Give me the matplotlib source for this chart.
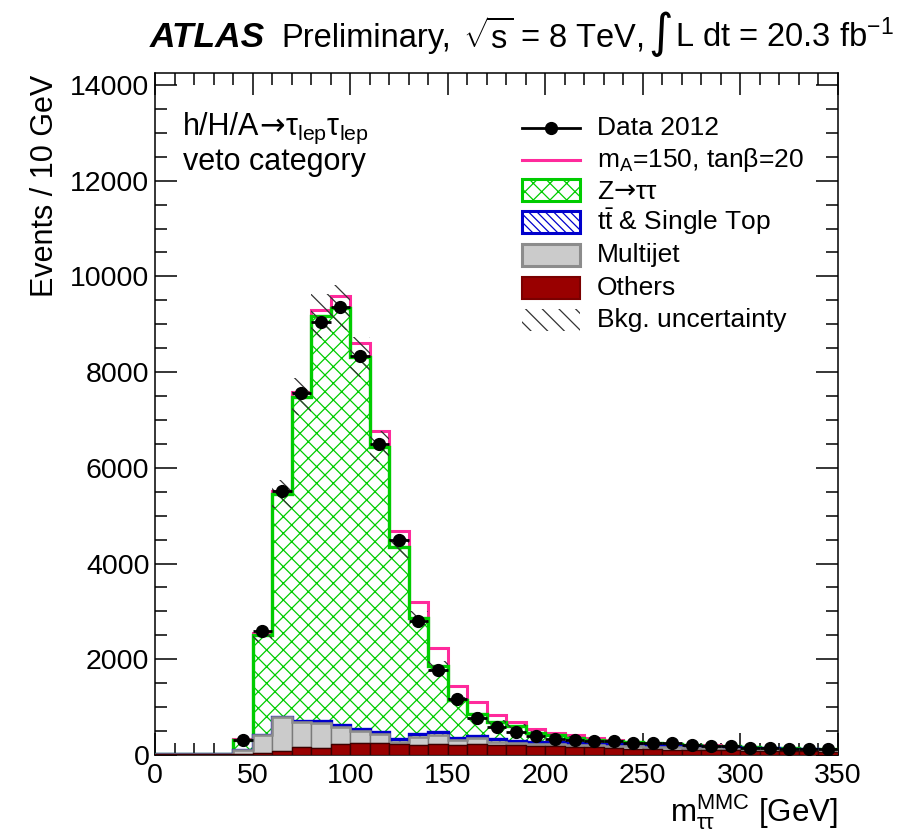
import numpy as np
import matplotlib
matplotlib.use('Agg')
import matplotlib.pyplot as plt
import matplotlib.patches as patches
from matplotlib.lines import Line2D

plt.rcParams['font.family'] = ['Liberation Sans', 'DejaVu Sans']
plt.rcParams['mathtext.fontset'] = 'custom'
plt.rcParams['mathtext.rm'] = 'Liberation Sans'
plt.rcParams['mathtext.it'] = 'Liberation Sans:italic'
plt.rcParams['mathtext.bf'] = 'Liberation Sans:bold'
plt.rcParams['mathtext.sf'] = 'Liberation Sans'
plt.rcParams['mathtext.default'] = 'regular'
plt.rcParams['hatch.linewidth'] = 0.9

# binning: 10 GeV bins from 0 to 350 GeV
edges = np.arange(0, 360, 10)
centers = edges[:-1] + 5

data_2012 = np.array([0, 0, 0, 0, 310, 2590, 5520, 7570, 9050, 9370, 8340, 6500, 4490, 2810,
                      1780, 1160, 780, 592, 487, 397, 334, 313, 292, 292, 258, 244, 244, 202,
                      188, 188, 153, 153, 132, 132, 118])
others = np.array([12, 12, 15, 18, 20, 40, 84, 174, 140, 230, 244, 243, 230, 209, 230, 209,
                   223, 202, 202, 188, 185, 175, 165, 150, 120, 115, 110, 105, 100, 95, 90,
                   85, 80, 75, 70])
multijet = np.array([0, 0, 0, 0, 84, 378, 706, 516, 536, 362, 251, 196, 48, 166, 188, 104,
                     125, 76, 42, 42, 40, 40, 40, 45, 60, 55, 50, 45, 40, 40, 35, 33, 30,
                     29, 28])
ttbar = np.array([0, 0, 0, 0, 2, 2, 11, 27, 27, 28, 55, 41, 49, 65, 69, 49, 56, 49, 56, 48,
                  45, 40, 35, 33, 35, 35, 32, 30, 28, 25, 23, 22, 20, 18, 16])
ztautau = np.array([0, 0, 0, 0, 214, 2087, 4652, 6770, 8470, 8726, 7760, 5962, 4025, 2416,
                    1373, 787, 453, 363, 306, 188, 141, 107, 73, 64, 47, 40, 40, 32, 27, 22,
                    17, 10, 10, 8, 8])
signal = np.array([0, 0, 0, 0, 15, 33, 69, 104, 125, 244, 292, 334, 328, 334, 369, 293, 257,
                   146, 77, 71, 55, 49, 35, 21, 18, 13, 8, 6, 5, 4, 3, 2, 2, 2, 1])
bkg_unc = np.array([0, 0, 0, 0, 25, 140, 290, 380, 460, 470, 420, 330, 230, 150, 100, 65,
                    50, 40, 35, 30, 28, 25, 22, 20, 18, 17, 16, 15, 14, 13, 12, 11, 10, 10, 9])

c_green = '#00cc00'
c_blue = '#0000cc'
c_grey = '#cbcbcb'
c_red = '#990000'
c_pink = '#ff2a9c'
c_unc = '#333333'

# stacked layers
lay_red = others
lay_grey = lay_red + multijet
lay_blue = lay_grey + ttbar
total = lay_blue + ztautau
with_sig = total + signal

W, H = 911, 832
fig = plt.figure(figsize=(W / 100, H / 100), dpi=100)
ax = fig.add_axes([155 / W, 77 / H, 683 / W, 682 / H])
renderer = fig.canvas.get_renderer()


def text_row(x_px, base_px, pieces):
    """write text pieces left to right on one baseline (pixel coords from top-left)"""
    x = x_px / W
    for txt, kw, gap in pieces:
        t = fig.text(x, (H - base_px) / H, txt, ha='left', va='baseline', **kw)
        bb = t.get_window_extent(renderer=renderer)
        x = (bb.x1 + gap) / W


# signal on top of the background
ax.stairs(with_sig, edges, color=c_pink, lw=2.2, zorder=2)

# Z->tautau
ax.stairs(total, edges, baseline=lay_blue, fill=True, facecolor='white',
          edgecolor=c_green, hatch='xx', lw=0, zorder=3)
ax.stairs(total, edges, color=c_green, lw=2.4, zorder=4)

# ttbar & single top
ax.stairs(lay_blue, edges, baseline=lay_grey, fill=True, facecolor='white',
          edgecolor=c_blue, hatch='\\\\\\\\', lw=0, zorder=5)
ax.stairs(lay_blue, edges, baseline=None, color=c_blue, lw=2.4, zorder=6)

# multijet
ax.bar(centers, multijet, width=10, bottom=lay_red, color=c_grey,
       edgecolor='#7a7a7a', lw=1.0, zorder=7)
ax.stairs(lay_grey, edges, baseline=None, color='#8c8c8c', lw=1.8, zorder=7)

# others
ax.bar(centers, others, width=10, color=c_red, edgecolor='#3d0000', lw=1.0, zorder=8)

# background uncertainty
ax.stairs(total + bkg_unc, edges, baseline=total - bkg_unc, fill=True, facecolor='none',
          edgecolor=c_unc, hatch='\\\\', lw=0, zorder=9)

# data
m = data_2012 > 0
ax.errorbar(centers[m], data_2012[m], xerr=5, yerr=np.sqrt(data_2012[m]), fmt='o',
            color='black', ms=8.5, lw=2, capsize=0, zorder=10)

ax.set_xlim(0, 350)
ax.set_ylim(0, 14250)
ax.set_xticks(np.arange(0, 351, 50))
ax.set_xticks(np.arange(0, 351, 10), minor=True)
ax.set_yticks(np.arange(0, 14001, 2000))
ax.set_yticks(np.arange(0, 14250, 500), minor=True)
ax.tick_params(which='both', direction='in', top=True, right=True, width=1.1,
               labelsize=20.5)
ax.tick_params(which='major', length=16)
ax.tick_params(which='minor', length=8.5)
ax.tick_params(axis='y', pad=4)
ax.tick_params(axis='x', pad=6)
for s in ax.spines.values():
    s.set_linewidth(1.1)

ax.text(-0.161, 0.997, 'Events / 10 GeV', rotation=90, ha='center', va='top',
        fontsize=22, transform=ax.transAxes)
ax.text(1.0, -0.083, r'$m_{\tau\tau}^{MMC}$ [GeV]', ha='right', va='center',
        fontsize=22.5, transform=ax.transAxes)

arrow = dict(fontsize=22, family='DejaVu Sans')
text_row(183, 135, [('h/H/A', dict(fontsize=22), 0),
                    ('→', arrow, 0),
                    (r'$\tau_{lep}\tau_{lep}$', dict(fontsize=22), 0)])
ax.text(0.041, 0.869, 'veto category', fontsize=22, ha='left', va='center',
        transform=ax.transAxes)


# legend, drawn by hand in axes coordinates
def ax_x(px):
    return (px - 155) / 683


def ax_y(py):
    return (755 - py) / 682


rows = [128, 160, 190, 222, 255, 288, 320]
labels = ['Data 2012', r'm$_A$=150, tan$\beta$=20', None,
          r'$t\bar{t}$ & Single Top', 'Multijet', 'Others', 'Bkg. uncertainty']
sx0, sx1 = ax_x(522), ax_x(580)
bh = 22 / 682
for py, lab in zip(rows, labels):
    if lab is None:
        continue
    ax.text(ax_x(597), ax_y(py), lab, fontsize=19, ha='left', va='center',
            transform=ax.transAxes)
text_row(597, rows[2] + 9, [('Z', dict(fontsize=19), 0),
                            ('→', dict(fontsize=19, family='DejaVu Sans'), 0),
                            (r'$\tau\tau$', dict(fontsize=19), 0)])

y = ax_y(rows[0])
ax.add_line(Line2D([sx0, sx1], [y, y], color='black', lw=2, transform=ax.transAxes))
ax.add_line(Line2D([(sx0 + sx1) / 2], [y], marker='o', ms=8.5, color='black',
                   transform=ax.transAxes))
y = ax_y(rows[1])
ax.add_line(Line2D([sx0, sx1], [y, y], color=c_pink, lw=2.2, transform=ax.transAxes))

box_styles = [
    dict(facecolor='white', edgecolor=c_green, hatch='xx', lw=2.2),
    dict(facecolor='white', edgecolor=c_blue, hatch='\\\\\\\\', lw=2.2),
    dict(facecolor=c_grey, edgecolor='#8c8c8c', lw=2.2),
    dict(facecolor=c_red, edgecolor='#7a0000', lw=1.5),
    dict(facecolor='none', edgecolor=c_unc, hatch='\\\\', lw=0),
]
for py, st in zip(rows[2:], box_styles):
    p = patches.Rectangle((sx0, ax_y(py) - bh / 2), sx1 - sx0, bh,
                          transform=ax.transAxes, clip_on=False, **st)
    ax.add_patch(p)

# title line
text_row(150, 47, [
    ('ATLAS', dict(fontsize=25.5, fontweight='bold', fontstyle='italic'), 16),
    ('Preliminary,', dict(fontsize=23.5), 12),
    (r'$\sqrt{s}$ = 8 TeV,', dict(fontsize=23.5), 5),
    ('∫', dict(fontsize=34, family='DejaVu Sans'), 2),
    (r'L dt = 20.3 fb$^{-1}$', dict(fontsize=23.5), 0),
])

fig.savefig('out.png', dpi=100)
